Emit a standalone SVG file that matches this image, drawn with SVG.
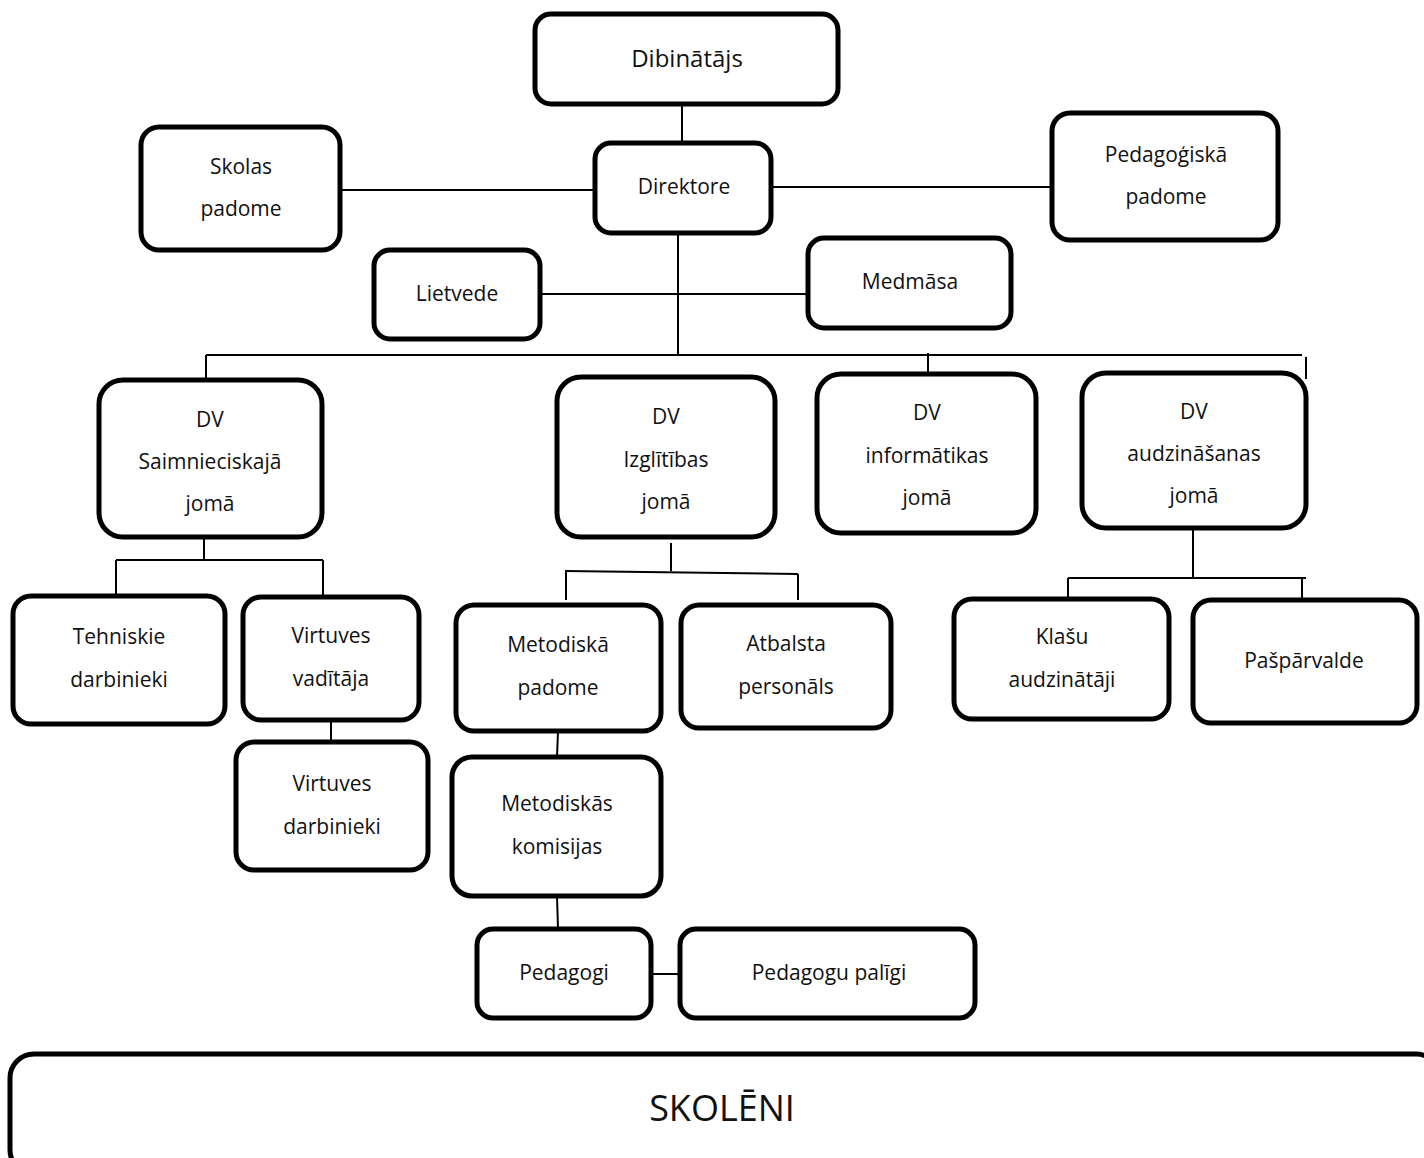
<svg xmlns="http://www.w3.org/2000/svg" width="1424" height="1158" viewBox="0 0 1424 1158">
<style>
.b{fill:#fff;stroke:#000;stroke-width:5}
.t{font-family:"Open Sans","Noto Sans",sans-serif;font-size:21px;fill:#111;text-anchor:middle;dominant-baseline:central}
.c line{stroke:#000;stroke-width:2}
</style>
<rect width="1424" height="1158" fill="#fff"/>
<g class="c" id="connectors">
<line x1="682" y1="104" x2="682" y2="143"/>
<line x1="340" y1="190" x2="595" y2="190"/>
<line x1="771" y1="187" x2="1052" y2="187"/>
<line x1="678" y1="233" x2="678" y2="355"/>
<line x1="540" y1="294" x2="808" y2="294"/>
<line x1="206" y1="355" x2="1302" y2="355"/>
<line x1="206" y1="355" x2="206" y2="380"/>
<line x1="928" y1="353" x2="928" y2="374"/>
<line x1="1306" y1="357" x2="1306" y2="379"/>
<line x1="204" y1="537" x2="204" y2="560"/>
<line x1="116" y1="560" x2="323" y2="560"/>
<line x1="116" y1="560" x2="116" y2="596"/>
<line x1="323" y1="560" x2="323" y2="597"/>
<line x1="671" y1="543" x2="671" y2="571"/>
<line x1="565" y1="571" x2="798" y2="574"/>
<line x1="566" y1="571" x2="566" y2="600"/>
<line x1="798" y1="574" x2="798" y2="600"/>
<line x1="331" y1="720" x2="331" y2="742"/>
<line x1="558" y1="731" x2="557" y2="757"/>
<line x1="557" y1="896" x2="558" y2="929"/>
<line x1="651" y1="974" x2="680" y2="974"/>
<line x1="1193" y1="528" x2="1193" y2="578"/>
<line x1="1068" y1="578" x2="1306" y2="578"/>
<line x1="1068" y1="578" x2="1068" y2="606"/>
<line x1="1302" y1="578" x2="1302" y2="600"/>
</g>
<g id="dibinatajs"><rect class="b" x="535" y="14" width="303" height="90" rx="16"/><text class="t" x="687" y="57" style="font-size:24px">Dibinātājs</text></g>
<g id="direktore"><rect class="b" x="595" y="143" width="176" height="90" rx="16"/><text class="t" x="684" y="186">Direktore</text></g>
<g id="skolas-padome"><rect class="b" x="141" y="127" width="199" height="123" rx="18"/><text class="t" x="241" y="166">Skolas</text><text class="t" x="241" y="208">padome</text></g>
<g id="pedagogiska-padome"><rect class="b" x="1052" y="113" width="226" height="127" rx="18"/><text class="t" x="1166" y="154">Pedagoģiskā</text><text class="t" x="1166" y="196">padome</text></g>
<g id="lietvede"><rect class="b" x="374" y="250" width="166" height="89" rx="16"/><text class="t" x="457" y="293">Lietvede</text></g>
<g id="medmasa"><rect class="b" x="808" y="238" width="203" height="90" rx="16"/><text class="t" x="910" y="281">Medmāsa</text></g>
<g id="dv-saimn"><rect class="b" x="99" y="380" width="223" height="157" rx="24"/><text class="t" x="210" y="419">DV</text><text class="t" x="210" y="461">Saimnieciskajā</text><text class="t" x="210" y="503">jomā</text></g>
<g id="dv-izgl"><rect class="b" x="557" y="377" width="218" height="160" rx="24"/><text class="t" x="666" y="416">DV</text><text class="t" x="666" y="459">Izglītības</text><text class="t" x="666" y="501">jomā</text></g>
<g id="dv-inform"><rect class="b" x="817" y="374" width="219" height="159" rx="24"/><text class="t" x="927" y="412">DV</text><text class="t" x="927" y="455">informātikas</text><text class="t" x="927" y="497">jomā</text></g>
<g id="dv-audz"><rect class="b" x="1082" y="373" width="224" height="155" rx="24"/><text class="t" x="1194" y="411">DV</text><text class="t" x="1194" y="453">audzināšanas</text><text class="t" x="1194" y="495">jomā</text></g>
<g id="tehniskie"><rect class="b" x="13" y="596" width="212" height="128" rx="18"/><text class="t" x="119" y="636">Tehniskie</text><text class="t" x="119" y="679">darbinieki</text></g>
<g id="virtuves-vaditaja"><rect class="b" x="243" y="597" width="176" height="123" rx="18"/><text class="t" x="331" y="635">Virtuves</text><text class="t" x="331" y="678">vadītāja</text></g>
<g id="virtuves-darbinieki"><rect class="b" x="236" y="742" width="192" height="128" rx="18"/><text class="t" x="332" y="783">Virtuves</text><text class="t" x="332" y="826">darbinieki</text></g>
<g id="metodiska-padome"><rect class="b" x="456" y="605" width="205" height="126" rx="18"/><text class="t" x="558" y="644">Metodiskā</text><text class="t" x="558" y="687">padome</text></g>
<g id="atbalsta"><rect class="b" x="681" y="605" width="210" height="123" rx="18"/><text class="t" x="786" y="643">Atbalsta</text><text class="t" x="786" y="686">personāls</text></g>
<g id="klasu"><rect class="b" x="954" y="599" width="215" height="120" rx="18"/><text class="t" x="1062" y="636">Klašu</text><text class="t" x="1062" y="679">audzinātāji</text></g>
<g id="pasparvalde"><rect class="b" x="1193" y="600" width="224" height="123" rx="18"/><text class="t" x="1304" y="660">Pašpārvalde</text></g>
<g id="metodiskas-komisijas"><rect class="b" x="452" y="757" width="209" height="139" rx="20"/><text class="t" x="557" y="803">Metodiskās</text><text class="t" x="557" y="846">komisijas</text></g>
<g id="pedagogi"><rect class="b" x="477" y="929" width="174" height="89" rx="16"/><text class="t" x="564" y="972">Pedagogi</text></g>
<g id="pedagogu-paligi"><rect class="b" x="680" y="929" width="295" height="89" rx="16"/><text class="t" x="829" y="972">Pedagogu palīgi</text></g>
<g id="skoleni"><rect class="b" x="10" y="1054" width="1430" height="120" rx="24"/><text class="t" x="722" y="1107" style="font-size:36px">SKOLĒNI</text></g>
</svg>
